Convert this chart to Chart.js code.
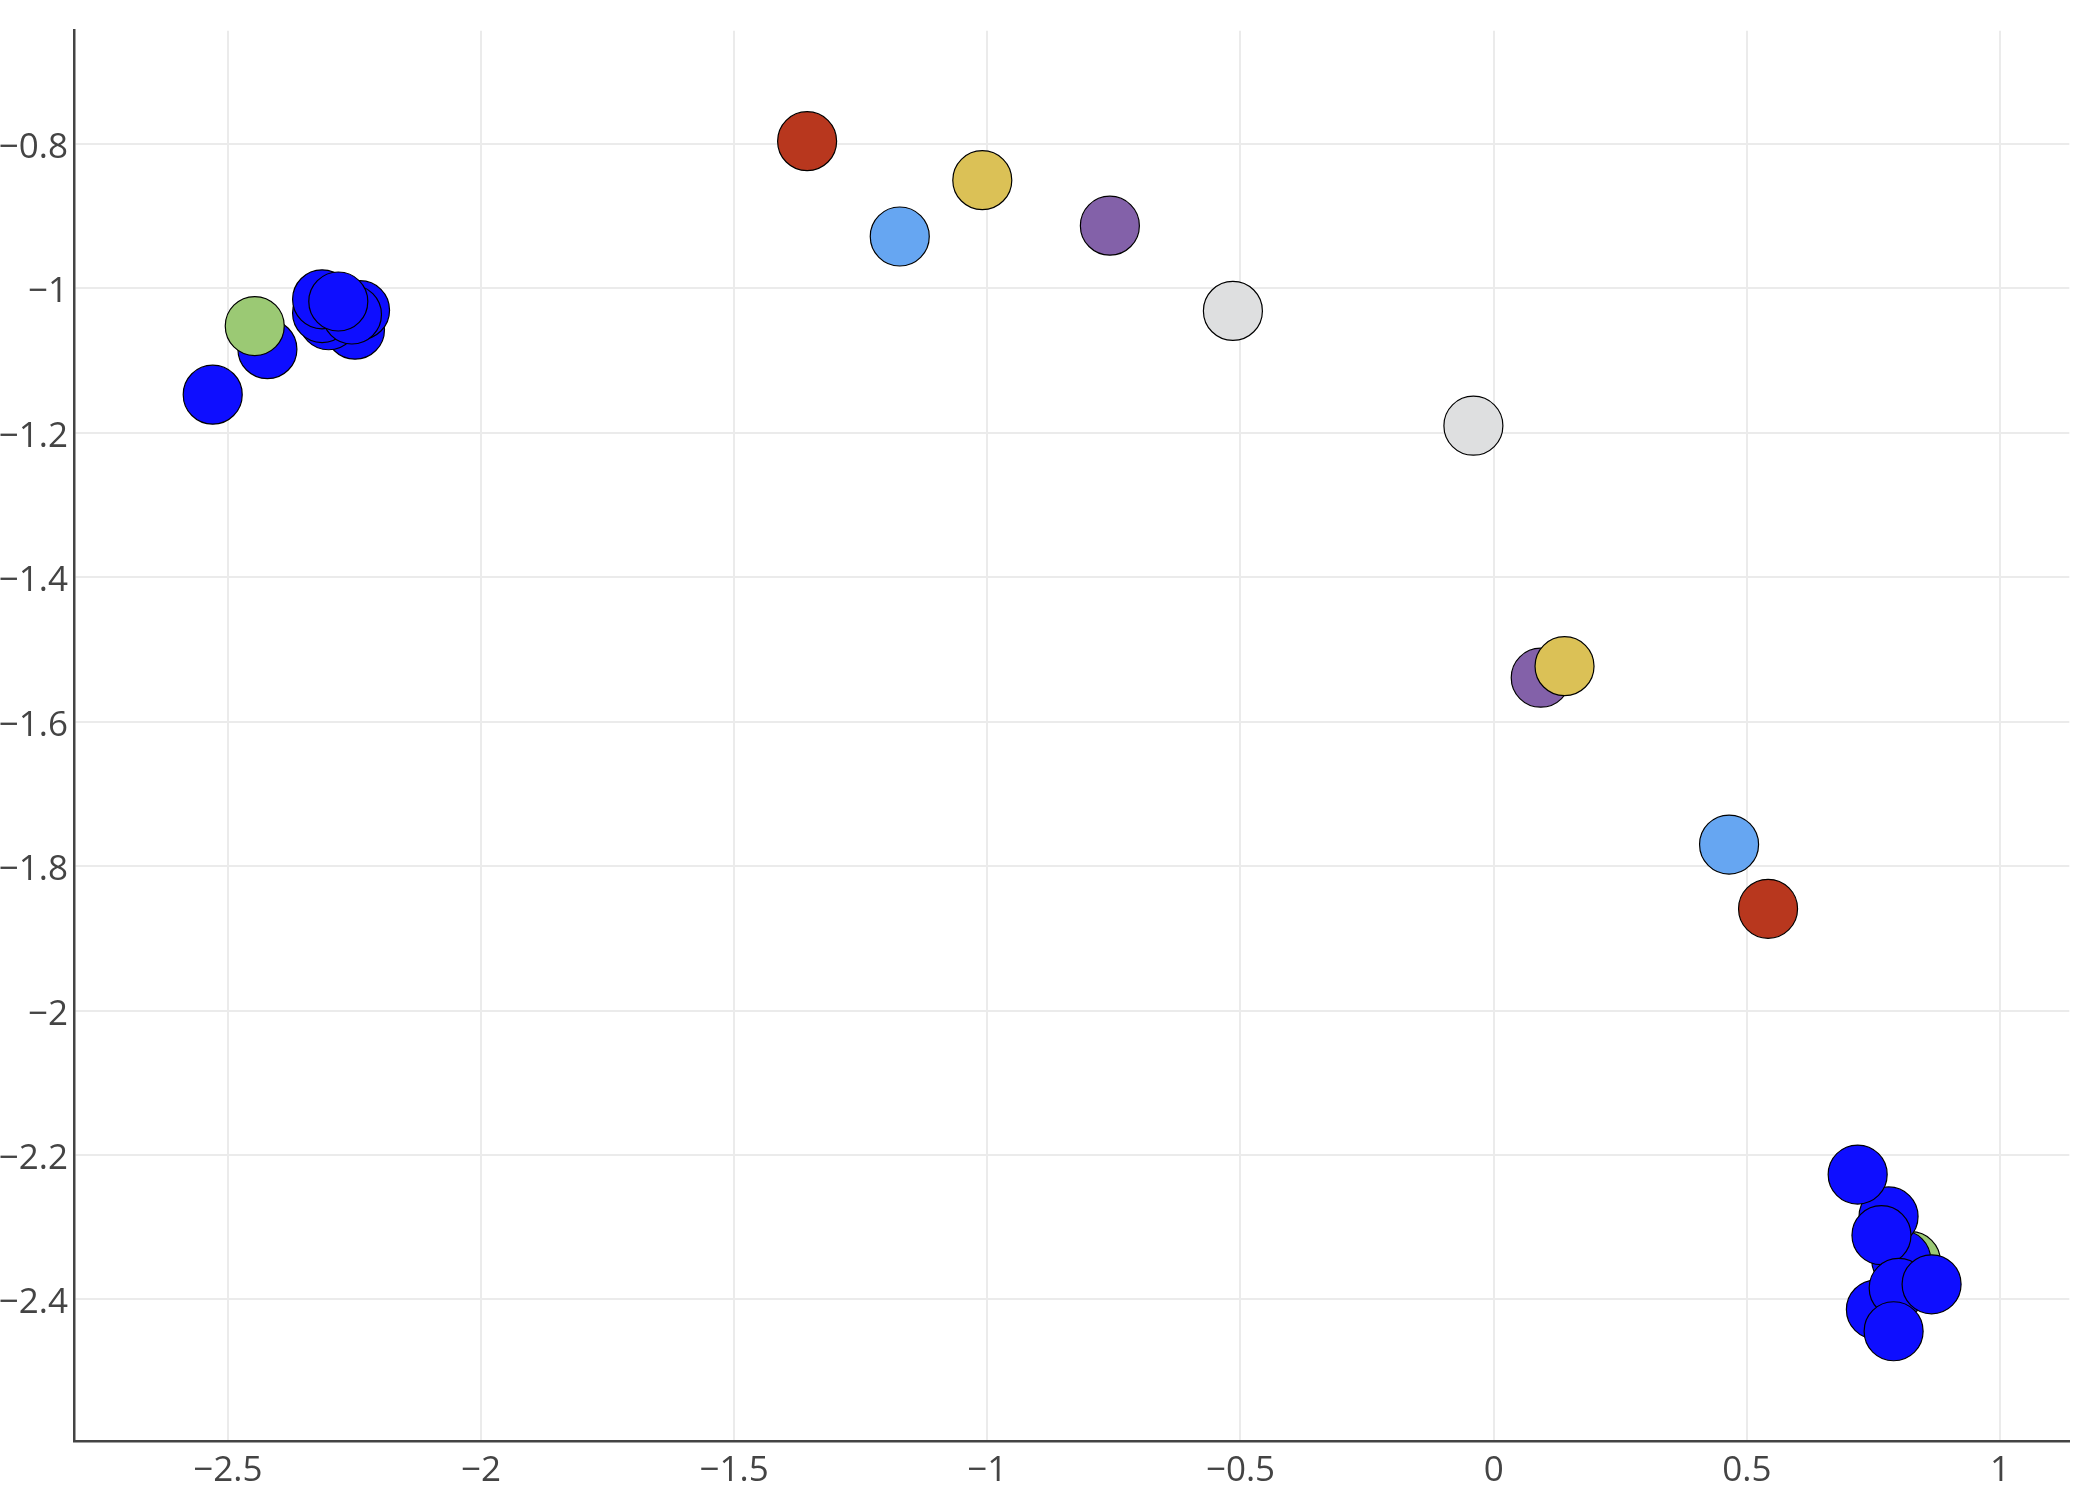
<!DOCTYPE html>
<html>
<head>
<meta charset="utf-8">
<script src="https://cdn.jsdelivr.net/npm/chart.js@4/dist/chart.umd.min.js"></script>
<style>
  html, body { margin: 0; padding: 0; background: #fff; }
  #wrap { width: 2100px; height: 1500px; }
</style>
</head>
<body>
<div id="wrap"><canvas id="chart" width="2100" height="1500"></canvas></div>
<script>
// point groups (listed back to front)
const blueLeftX = [-2.530, -2.422, -2.249, -2.239, -2.301, -2.314, -2.255, -2.314, -2.282];
const blueLeftY = [-1.147, -1.084, -1.057, -1.030, -1.044, -1.034, -1.036, -1.015, -1.018];
const greenX = [0.824, -2.447];
const greenY = [-2.347, -1.052];
const blueRightX = [0.805, 0.780, 0.766, 0.719, 0.755, 0.800, 0.865, 0.790];
const blueRightY = [-2.345, -2.285, -2.311, -2.227, -2.414, -2.384, -2.379, -2.444];
const redX = [-1.356, 0.542];
const redY = [-0.796, -1.859];
const lightBlueX = [-1.173, 0.465];
const lightBlueY = [-0.928, -1.770];
const purpleX = [-0.758, 0.093];
const purpleY = [-0.913, -1.539];
const yellowX = [-1.010, 0.140];
const yellowY = [-0.850, -1.523];
const grayX = [-0.515, -0.040];
const grayY = [-1.031, -1.190];

const xTicks = [-2.5, -2, -1.5, -1, -0.5, 0, 0.5, 1];
const yTicks = [-0.8, -1, -1.2, -1.4, -1.6, -1.8, -2, -2.2, -2.4];

function pts(xs, ys) {
  return xs.map((x, i) => ({ x: x, y: ys[i] }));
}

// drawn in this order, last one on top
const groups = [
  { label: 'blue a', data: pts(blueLeftX, blueLeftY), color: '#0e0eff' },
  { label: 'green', data: pts(greenX, greenY), color: '#9bc974' },
  { label: 'blue b', data: pts(blueRightX, blueRightY), color: '#0e0eff' },
  { label: 'red', data: pts(redX, redY), color: '#b8371e' },
  { label: 'light blue', data: pts(lightBlueX, lightBlueY), color: '#66a6f2' },
  { label: 'purple', data: pts(purpleX, purpleY), color: '#8361a9' },
  { label: 'yellow', data: pts(yellowX, yellowY), color: '#dbc156' },
  { label: 'gray', data: pts(grayX, grayY), color: '#dedfe0' }
];

const fmt = v => {
  const n = parseFloat(v.toFixed(2));
  return (n < 0 ? '\u2212' : '') + Math.abs(n);
};

const tickFont = { family: '"Open Sans", sans-serif', size: 35 };

new Chart(document.getElementById('chart'), {
  type: 'scatter',
  data: {
    datasets: groups.map((g, i) => ({
      label: g.label,
      data: g.data,
      backgroundColor: g.color,
      borderColor: '#000',
      borderWidth: 1.2,
      pointRadius: 29.5,
      pointHoverRadius: 29.5,
      order: groups.length - i
    }))
  },
  options: {
    responsive: false,
    animation: false,
    events: [],
    layout: { padding: { top: 27, right: 30, left: 0, bottom: 0 } },
    plugins: { legend: { display: false }, tooltip: { enabled: false } },
    scales: {
      x: {
        type: 'linear',
        min: -2.804,
        max: 1.137,
        afterBuildTicks: axis => { axis.ticks = xTicks.map(v => ({ value: v })); },
        afterFit: axis => { axis.height = 59; },
        ticks: { callback: fmt, color: '#444', font: tickFont, padding: 9, maxRotation: 0 },
        grid: { color: '#ebebeb', lineWidth: 2, drawTicks: false },
        border: { color: '#444', width: 2.5 }
      },
      y: {
        type: 'linear',
        min: -2.596,
        max: -0.643,
        afterBuildTicks: axis => { axis.ticks = yTicks.map(v => ({ value: v })); },
        afterFit: axis => { axis.width = 74; },
        ticks: { callback: fmt, color: '#444', font: tickFont, padding: 6, labelOffset: 4 },
        grid: { color: '#ebebeb', lineWidth: 2, drawTicks: false },
        border: { color: '#444', width: 2.5 }
      }
    }
  }
});
</script>
</body>
</html>
